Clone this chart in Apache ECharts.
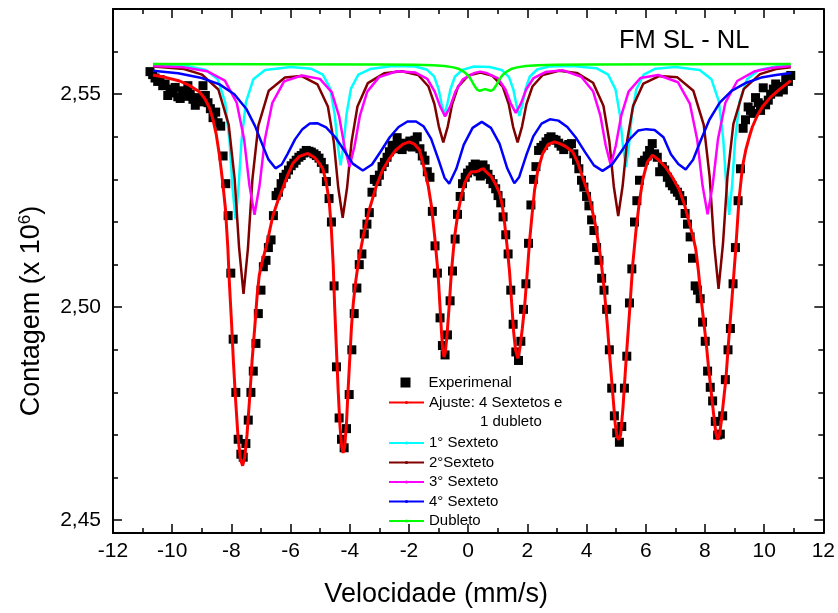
<!DOCTYPE html>
<html><head><meta charset="utf-8">
<script src="https://cdn.jsdelivr.net/npm/echarts@6/dist/echarts.min.js"></script>
<style>html,body{margin:0;padding:0;background:#fff}#c{width:838px;height:613px}</style>
</head><body><div id="c"></div>
<script>
const velocity = [-10.75,-10.66,-10.58,-10.49,-10.41,-10.32,-10.24,-10.15,-10.07,-9.98,-9.90,-9.81,-9.73,-9.64,-9.56,-9.47,-9.39,-9.30,-9.22,-9.13,-9.05,-8.96,-8.88,-8.79,-8.71,-8.62,-8.53,-8.45,-8.36,-8.28,-8.19,-8.11,-8.02,-7.94,-7.85,-7.77,-7.68,-7.60,-7.51,-7.43,-7.34,-7.26,-7.17,-7.09,-7.00,-6.92,-6.83,-6.75,-6.66,-6.58,-6.49,-6.41,-6.32,-6.24,-6.15,-6.07,-5.98,-5.89,-5.81,-5.72,-5.64,-5.55,-5.47,-5.38,-5.30,-5.21,-5.13,-5.04,-4.96,-4.87,-4.79,-4.70,-4.62,-4.53,-4.45,-4.36,-4.28,-4.19,-4.11,-4.02,-3.93,-3.85,-3.76,-3.68,-3.59,-3.51,-3.42,-3.34,-3.25,-3.17,-3.08,-3.00,-2.91,-2.83,-2.74,-2.66,-2.57,-2.49,-2.40,-2.32,-2.23,-2.15,-2.06,-1.97,-1.89,-1.80,-1.72,-1.63,-1.55,-1.46,-1.38,-1.29,-1.21,-1.12,-1.04,-0.95,-0.87,-0.78,-0.70,-0.61,-0.53,-0.44,-0.36,-0.27,-0.19,-0.10,-0.02,0.07,0.16,0.24,0.33,0.41,0.50,0.58,0.67,0.75,0.84,0.93,1.01,1.10,1.18,1.27,1.35,1.44,1.52,1.61,1.70,1.78,1.87,1.95,2.04,2.12,2.21,2.29,2.38,2.46,2.55,2.63,2.72,2.80,2.89,2.97,3.06,3.14,3.23,3.31,3.40,3.49,3.57,3.66,3.74,3.83,3.91,4.00,4.08,4.17,4.25,4.34,4.42,4.51,4.59,4.68,4.77,4.85,4.94,5.02,5.11,5.19,5.28,5.36,5.45,5.53,5.62,5.70,5.79,5.87,5.96,6.05,6.13,6.22,6.30,6.39,6.47,6.56,6.64,6.73,6.81,6.90,6.98,7.07,7.15,7.24,7.33,7.41,7.50,7.58,7.67,7.75,7.84,7.92,8.01,8.09,8.18,8.26,8.35,8.43,8.52,8.60,8.69,8.78,8.86,8.95,9.03,9.12,9.20,9.29,9.37,9.46,9.54,9.63,9.71,9.80,9.88,9.97,10.05,10.14,10.22,10.31,10.39,10.48,10.56,10.65,10.73,10.82,10.90];
const counts = [2.5553,2.5546,2.5538,2.5530,2.5534,2.5520,2.5524,2.5497,2.5512,2.5503,2.5516,2.5494,2.5490,2.5508,2.5495,2.5520,2.5500,2.5488,2.5474,2.5492,2.5482,2.5520,2.5497,2.5480,2.5466,2.5445,2.5458,2.5433,2.5425,2.5355,2.5290,2.5215,2.5080,2.4925,2.4800,2.4690,2.4655,2.4648,2.4680,2.4735,2.4800,2.4850,2.4915,2.4985,2.5040,2.5095,2.5110,2.5140,2.5158,2.5215,2.5262,2.5270,2.5290,2.5305,2.5312,2.5322,2.5332,2.5338,2.5345,2.5352,2.5356,2.5362,2.5368,2.5366,2.5364,2.5360,2.5356,2.5350,2.5340,2.5325,2.5295,2.5255,2.5200,2.5050,2.4860,2.4740,2.4690,2.4670,2.4715,2.4795,2.4900,2.4985,2.5045,2.5100,2.5125,2.5172,2.5195,2.5222,2.5270,2.5300,2.5295,2.5310,2.5330,2.5340,2.5352,2.5365,2.5380,2.5372,2.5398,2.5382,2.5370,2.5385,2.5378,2.5390,2.5376,2.5392,2.5400,2.5372,2.5355,2.5345,2.5318,2.5305,2.5225,2.5144,2.5080,2.4975,2.4910,2.4888,2.4935,2.5015,2.5085,2.5160,2.5218,2.5260,2.5290,2.5305,2.5315,2.5322,2.5330,2.5336,2.5318,2.5308,2.5334,2.5325,2.5312,2.5300,2.5290,2.5278,2.5262,2.5245,2.5212,2.5170,2.5125,2.5040,2.4960,2.4895,2.4875,2.4920,2.4995,2.5055,2.5150,2.5240,2.5300,2.5330,2.5368,2.5375,2.5380,2.5388,2.5396,2.5400,2.5394,2.5392,2.5385,2.5378,2.5370,2.5378,2.5382,2.5384,2.5360,2.5345,2.5325,2.5298,2.5282,2.5260,2.5238,2.5205,2.5180,2.5140,2.5110,2.5068,2.5040,2.4995,2.4900,2.4810,2.4745,2.4705,2.4683,2.4720,2.4810,2.4885,2.5010,2.5090,2.5200,2.5250,2.5298,2.5340,2.5345,2.5355,2.5368,2.5384,2.5360,2.5352,2.5318,2.5330,2.5322,2.5305,2.5292,2.5285,2.5277,2.5270,2.5262,2.5250,2.5220,2.5195,2.5165,2.5115,2.5050,2.5040,2.5020,2.4965,2.4920,2.4850,2.4812,2.4780,2.4732,2.4700,2.4702,2.4745,2.4830,2.4900,2.4950,2.5055,2.5140,2.5250,2.5325,2.5420,2.5440,2.5470,2.5462,2.5455,2.5492,2.5480,2.5462,2.5515,2.5475,2.5486,2.5500,2.5512,2.5524,2.5505,2.5518,2.5510,2.5538,2.5530,2.5544];

const fitLine = [[-10.65,2.5545],[-10.2,2.5539],[-9.75,2.5531],[-9.4,2.5520],[-9.07,2.5505],[-8.9,2.5490],[-8.74,2.5468],[-8.62,2.5440],[-8.51,2.5405],[-8.4,2.5355],[-8.29,2.5291],[-8.2,2.5230],[-8.12,2.5140],[-8.07,2.5060],[-7.99,2.4957],[-7.93,2.4870],[-7.86,2.4785],[-7.78,2.4700],[-7.7,2.4645],[-7.62,2.4628],[-7.55,2.4647],[-7.47,2.4702],[-7.38,2.4790],[-7.3,2.4875],[-7.21,2.4953],[-7.13,2.5028],[-7.06,2.5074],[-6.95,2.5110],[-6.83,2.5140],[-6.6,2.5214],[-6.43,2.5250],[-6.27,2.5278],[-6.1,2.5310],[-5.92,2.5338],[-5.7,2.5354],[-5.42,2.5361],[-5.2,2.5352],[-5.05,2.5340],[-4.91,2.5325],[-4.8,2.5295],[-4.69,2.5245],[-4.62,2.5180],[-4.56,2.5100],[-4.51,2.5000],[-4.45,2.4900],[-4.39,2.4802],[-4.33,2.4720],[-4.27,2.4672],[-4.225,2.4658],[-4.17,2.4672],[-4.11,2.4730],[-4.06,2.4802],[-4.0,2.4880],[-3.94,2.4957],[-3.88,2.5010],[-3.8,2.5060],[-3.7,2.5110],[-3.55,2.5165],[-3.34,2.5229],[-3.1,2.5285],[-2.89,2.5322],[-2.65,2.5350],[-2.44,2.5369],[-2.2,2.5383],[-1.99,2.5388],[-1.82,2.5383],[-1.64,2.5369],[-1.47,2.5322],[-1.35,2.5285],[-1.24,2.5237],[-1.13,2.5165],[-1.02,2.5082],[-0.95,2.5000],[-0.9,2.4940],[-0.86,2.4900],[-0.815,2.4883],[-0.77,2.4895],[-0.72,2.4930],[-0.65,2.4995],[-0.567,2.5082],[-0.46,2.5165],[-0.345,2.5221],[-0.23,2.5262],[-0.118,2.5291],[0.0,2.5308],[0.108,2.5318],[0.25,2.5318],[0.35,2.5320],[0.445,2.5324],[0.52,2.5325],[0.6,2.5318],[0.78,2.5307],[0.92,2.5290],[1.06,2.5268],[1.15,2.5240],[1.23,2.5198],[1.32,2.5140],[1.40,2.5082],[1.47,2.5010],[1.54,2.4940],[1.6,2.4900],[1.68,2.4880],[1.75,2.4905],[1.83,2.4950],[1.91,2.5004],[2.0,2.5085],[2.08,2.5159],[2.17,2.5225],[2.245,2.5276],[2.35,2.5320],[2.52,2.5361],[2.7,2.5382],[2.91,2.5388],[3.1,2.5384],[3.3,2.5377],[3.53,2.5365],[3.7,2.5340],[3.86,2.5307],[4.09,2.5260],[4.31,2.5190],[4.48,2.5115],[4.6,2.5040],[4.7,2.4960],[4.8,2.4870],[4.9,2.4785],[4.97,2.4725],[5.03,2.4697],[5.09,2.4689],[5.15,2.4700],[5.23,2.4763],[5.34,2.4880],[5.46,2.4996],[5.56,2.5100],[5.67,2.5180],[5.78,2.5245],[5.9,2.5300],[6.05,2.5340],[6.23,2.5357],[6.45,2.5345],[6.68,2.5328],[6.9,2.5305],[7.13,2.5276],[7.3,2.5243],[7.47,2.5198],[7.6,2.5165],[7.69,2.5136],[7.78,2.5085],[7.86,2.5027],[7.95,2.4972],[8.04,2.4918],[8.12,2.4860],[8.21,2.4802],[8.3,2.4745],[8.37,2.4705],[8.43,2.4689],[8.49,2.4700],[8.55,2.4730],[8.62,2.4775],[8.71,2.4833],[8.8,2.4920],[8.88,2.4990],[8.93,2.5035],[9.04,2.5136],[9.15,2.5252],[9.27,2.5330],[9.38,2.5369],[9.5,2.5400],[9.6,2.5423],[9.77,2.5450],[9.94,2.5470],[10.2,2.5492],[10.5,2.5510],[10.9,2.5532]];

const sextet1 = [[-10.65,2.5569],[-9.5,2.5566],[-8.86,2.5557],[-8.46,2.5535],[-8.21,2.5481],[-8.06,2.5389],[-7.96,2.5279],[-7.86,2.5206],[-7.76,2.5279],[-7.66,2.5389],[-7.51,2.5481],[-7.26,2.5535],[-6.86,2.5557],[-6.0,2.5564],[-5.31,2.5560],[-4.91,2.5546],[-4.66,2.5513],[-4.51,2.5453],[-4.41,2.5382],[-4.31,2.5333],[-4.21,2.5382],[-4.11,2.5453],[-3.96,2.5513],[-3.71,2.5546],[-3.31,2.5559],[-2.55,2.5566],[-1.80,2.5565],[-1.40,2.5558],[-1.15,2.5542],[-1.00,2.5512],[-0.90,2.5478],[-0.80,2.5453],[-0.70,2.5478],[-0.60,2.5511],[-0.45,2.5541],[-0.20,2.5557],[0.20,2.5565],[0.73,2.5564],[1.13,2.5557],[1.38,2.5540],[1.53,2.5510],[1.63,2.5475],[1.73,2.5449],[1.83,2.5475],[1.93,2.5510],[2.08,2.5541],[2.33,2.5558],[2.73,2.5565],[3.50,2.5566],[4.33,2.5561],[4.73,2.5546],[4.98,2.5511],[5.13,2.5450],[5.23,2.5378],[5.33,2.5329],[5.43,2.5378],[5.53,2.5450],[5.68,2.5511],[5.93,2.5546],[6.33,2.5560],[7.0,2.5564],[7.82,2.5557],[8.22,2.5535],[8.47,2.5483],[8.62,2.5393],[8.72,2.5288],[8.82,2.5217],[8.92,2.5288],[9.02,2.5393],[9.17,2.5483],[9.42,2.5535],[9.82,2.5557],[10.4,2.5565],[10.9,2.5567]];

const sextet2 = [[-10.65,2.5565],[-9.6,2.5559],[-8.99,2.5546],[-8.44,2.5511],[-8.09,2.5428],[-7.89,2.5301],[-7.74,2.5140],[-7.59,2.5031],[-7.44,2.5139],[-7.29,2.5300],[-7.09,2.5426],[-6.74,2.5508],[-6.19,2.5539],[-5.64,2.5543],[-5.09,2.5523],[-4.74,2.5471],[-4.54,2.5388],[-4.39,2.5281],[-4.24,2.5210],[-4.09,2.5281],[-3.94,2.5388],[-3.74,2.5471],[-3.39,2.5526],[-2.84,2.5549],[-2.24,2.5554],[-1.69,2.5545],[-1.34,2.5518],[-1.14,2.5477],[-0.99,2.5424],[-0.84,2.5387],[-0.69,2.5424],[-0.54,2.5477],[-0.34,2.5518],[0.01,2.5544],[0.42,2.5551],[0.82,2.5543],[1.17,2.5518],[1.37,2.5477],[1.52,2.5423],[1.67,2.5387],[1.82,2.5424],[1.97,2.5477],[2.17,2.5518],[2.52,2.5545],[3.07,2.5555],[3.67,2.5550],[4.22,2.5527],[4.57,2.5473],[4.77,2.5390],[4.92,2.5284],[5.07,2.5214],[5.22,2.5285],[5.37,2.5390],[5.57,2.5472],[5.92,2.5525],[6.47,2.5543],[7.06,2.5540],[7.61,2.5508],[7.96,2.5428],[8.16,2.5306],[8.31,2.5148],[8.46,2.5043],[8.61,2.5149],[8.76,2.5306],[8.96,2.5430],[9.31,2.5512],[9.86,2.5547],[10.4,2.5559],[10.9,2.5563]];

const sextet3 = [[-10.65,2.5566],[-9.6,2.5563],[-8.82,2.5554],[-8.22,2.5532],[-7.82,2.5480],[-7.57,2.5394],[-7.39,2.5286],[-7.22,2.5217],[-7.05,2.5285],[-6.87,2.5393],[-6.62,2.5479],[-6.22,2.5530],[-5.62,2.5544],[-5.01,2.5536],[-4.61,2.5505],[-4.36,2.5448],[-4.18,2.5378],[-4.01,2.5330],[-3.84,2.5378],[-3.66,2.5449],[-3.41,2.5506],[-3.01,2.5540],[-2.41,2.5554],[-1.78,2.5551],[-1.38,2.5536],[-1.13,2.5506],[-0.95,2.5472],[-0.78,2.5448],[-0.61,2.5471],[-0.43,2.5506],[-0.18,2.5535],[0.22,2.5550],[0.41,2.5553],[0.61,2.5550],[1.01,2.5537],[1.26,2.5511],[1.44,2.5478],[1.61,2.5456],[1.78,2.5478],[1.96,2.5511],[2.21,2.5538],[2.61,2.5552],[3.21,2.5556],[3.82,2.5541],[4.22,2.5507],[4.47,2.5449],[4.65,2.5379],[4.82,2.5333],[4.99,2.5380],[5.17,2.5449],[5.42,2.5506],[5.82,2.5538],[6.42,2.5545],[7.09,2.5528],[7.49,2.5478],[7.74,2.5393],[7.92,2.5285],[8.09,2.5218],[8.26,2.5286],[8.44,2.5394],[8.69,2.5480],[9.09,2.5531],[9.69,2.5554],[10.3,2.5562],[10.9,2.5566]];

const sextet4 = [[-10.65,2.5555],[-9.8,2.5549],[-9.0,2.5538],[-8.4,2.5523],[-7.9,2.5500],[-7.5,2.5466],[-7.2,2.5425],[-6.95,2.5381],[-6.75,2.5347],[-6.51,2.5326],[-6.3,2.5335],[-6.1,2.5360],[-5.85,2.5394],[-5.6,2.5418],[-5.35,2.5431],[-5.1,2.5432],[-4.8,2.5422],[-4.5,2.5400],[-4.2,2.5369],[-3.9,2.5337],[-3.56,2.5321],[-3.25,2.5335],[-2.95,2.5366],[-2.65,2.5399],[-2.35,2.5423],[-2.05,2.5436],[-1.76,2.5436],[-1.5,2.5424],[-1.25,2.5395],[-1.0,2.5346],[-0.8,2.5304],[-0.64,2.5290],[-0.4,2.5325],[-0.15,2.5381],[0.15,2.5421],[0.46,2.5435],[0.77,2.5421],[1.06,2.5384],[1.32,2.5326],[1.56,2.5291],[1.72,2.5305],[1.96,2.5356],[2.2,2.5401],[2.48,2.5431],[2.76,2.5441],[3.05,2.5438],[3.35,2.5423],[3.65,2.5397],[3.95,2.5364],[4.25,2.5333],[4.54,2.5320],[4.85,2.5334],[5.15,2.5363],[5.45,2.5394],[5.75,2.5415],[6.02,2.5418],[6.3,2.5416],[6.6,2.5399],[6.85,2.5359],[7.1,2.5336],[7.35,2.5323],[7.6,2.5346],[7.85,2.5390],[8.15,2.5440],[8.5,2.5480],[8.9,2.5508],[9.4,2.5527],[9.9,2.5539],[10.4,2.5545],[10.9,2.5550]];

const doublet = [[-10.65,2.5571],[-3.0,2.5570],[-1.8,2.5569],[-1.2,2.5568],[-0.8,2.5566],[-0.5,2.5563],[-0.3,2.5559],[-0.15,2.5553],[0.0,2.5544],[0.1,2.5534],[0.2,2.5521],[0.3,2.5511],[0.39,2.5508],[0.48,2.5510],[0.575,2.5512],[0.67,2.5510],[0.76,2.5508],[0.85,2.5511],[0.95,2.5521],[1.05,2.5534],[1.15,2.5544],[1.3,2.5553],[1.45,2.5559],[1.65,2.5563],[1.95,2.5566],[2.35,2.5568],[2.95,2.5569],[4.15,2.5570],[10.9,2.5571]];

const seriesNames = ['Experimenal','Ajuste: 4 Sextetos e','1° Sexteto','2°Sexteto','3° Sexteto','4° Sexteto','Dubleto'];
const seriesColors = ['#000000','#ff0000','#00ffff','#800000','#ff00ff','#0000ff','#00ff00'];
const yTicksMajor = [2.45, 2.50, 2.55];

const F = '"Liberation Sans", Arial, Helvetica, sans-serif';
const chart = echarts.init(document.getElementById('c'), null, {renderer: 'canvas'});

const black = {color: '#000', width: 2};
const tickStyle = {color: '#000', width: 1.5};
function yAx(pos, step, len, labels, line) {
  return {
    type: 'value', min: 2.447, max: 2.57, minInterval: step, maxInterval: step, position: pos,
    axisLine: {show: line, onZero: false, lineStyle: black},
    axisTick: {show: true, inside: true, length: len, lineStyle: tickStyle},
    splitLine: {show: false},
    axisLabel: labels ? {
      show: true, color: '#000', fontSize: 21, fontFamily: F, margin: 12,
      showMinLabel: false, showMaxLabel: false,
      formatter: v => (yTicksMajor.some(t => Math.abs(t - v) < 1e-6) ? v.toFixed(2).replace('.', ',') : '')
    } : {show: false}
  };
}
function xAx(pos, labels) {
  return {
    type: 'value', min: -12, max: 12, interval: 2, position: pos,
    axisLine: {show: true, onZero: false, lineStyle: black},
    axisTick: {show: true, inside: true, length: 9, lineStyle: tickStyle},
    minorTick: {show: true, splitNumber: 2, length: 5, lineStyle: tickStyle},
    splitLine: {show: false},
    axisLabel: labels ? {show: true, color: '#000', fontSize: 21, fontFamily: F, margin: 8} : {show: false}
  };
}
const xMain = xAx('bottom', true);
xMain.name = 'Velocidade (mm/s)';
xMain.nameLocation = 'middle';
xMain.nameGap = 48;
xMain.nameTextStyle = {color: '#000', fontSize: 27, fontFamily: F, padding: [0, 64, 0, 0]};
const yMain = yAx('left', 0.05, 9, true, true);
yMain.name = 'Contagem (x 10{sup|6})';
yMain.nameLocation = 'middle';
yMain.nameGap = 67;
yMain.nameRotate = 90;
yMain.nameTextStyle = {color: '#000', fontSize: 27, fontFamily: F, padding: [0, 80, 0, 0],
  rich: {sup: {color: '#000', fontSize: 17, fontFamily: F, padding: [0, 0, 12, 0]}}};

function lineSeries(idx, data, width) {
  return {
    type: 'line', name: seriesNames[idx], data: data, xAxisIndex: 0, yAxisIndex: 0,
    symbol: 'circle', symbolSize: 3, showSymbol: false, smooth: false,
    lineStyle: {color: seriesColors[idx], width: width},
    itemStyle: {color: seriesColors[idx]},
    emphasis: {disabled: true}, silent: true
  };
}
const legendText = {color: '#000', fontSize: 15, fontFamily: F};
const option = {
  animation: false,
  backgroundColor: '#fff',
  grid: {left: 113, right: 14, top: 9, bottom: 77, containLabel: false},
  xAxis: [xMain, xAx('top', false)],
  yAxis: [yMain, yAx('left', 0.01, 5, false, false), yAx('right', 0.05, 9, false, true), yAx('right', 0.01, 5, false, false)],
  legend: [
    {data: [seriesNames[0]], left: 400.5, top: 375, padding: 0, itemWidth: 10, itemHeight: 10, selectedMode: false,
     textStyle: Object.assign({padding: [0, 0, 0, 13]}, legendText)},
    {data: [seriesNames[1]], left: 388, top: 395, padding: 0, itemWidth: 35, itemHeight: 4, selectedMode: false, textStyle: legendText},
    {data: seriesNames.slice(2), orient: 'vertical', left: 388, top: 435.5, padding: 0, itemWidth: 35, itemHeight: 4, itemGap: 4.5, selectedMode: false, textStyle: legendText}
  ],
  graphic: [
    {type: 'text', left: 480, top: 414, silent: true, style: {text: '1 dubleto', fill: '#000', font: '15px ' + F}},
    {type: 'text', left: 619, top: 28, silent: true, style: {text: 'FM SL - NL', fill: '#000', font: '25.5px ' + F}}
  ],
  series: [
    {type: 'scatter', name: seriesNames[0], data: velocity.map((v, i) => [v, counts[i]]), xAxisIndex: 0, yAxisIndex: 0,
     symbol: 'rect', symbolSize: 9, itemStyle: {color: '#000', opacity: 1}, silent: true},
    lineSeries(1, fitLine, 3),
    lineSeries(2, sextet1, 2.5),
    lineSeries(3, sextet2, 2.5),
    lineSeries(4, sextet3, 2.5),
    lineSeries(5, sextet4, 2.5),
    lineSeries(6, doublet, 2.5)
  ]
};
chart.setOption(option);
</script></body></html>
